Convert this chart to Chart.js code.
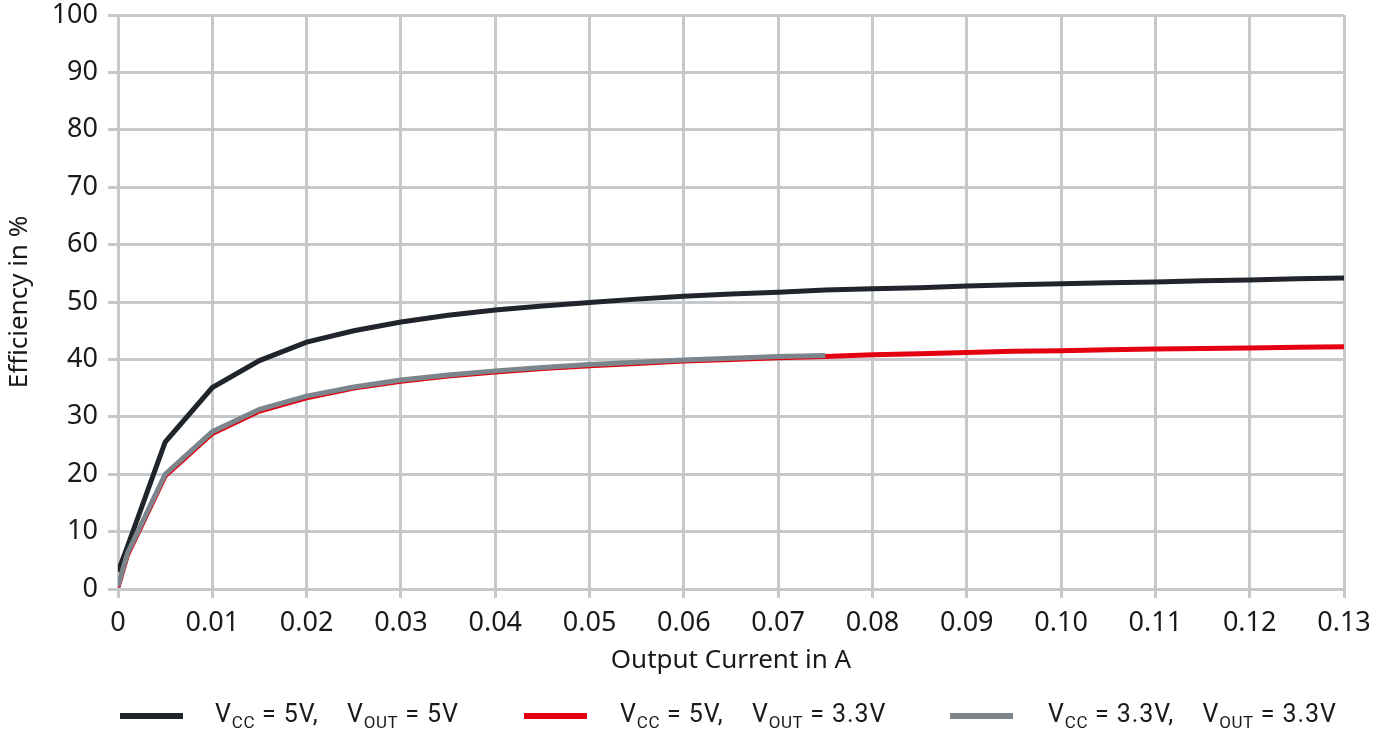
<!DOCTYPE html>
<html>
<head>
<meta charset="utf-8">
<script src="https://cdn.jsdelivr.net/npm/chart.js@4"></script>
<style>
  html, body { margin: 0; padding: 0; background: #fff; }
  #wrap { position: relative; width: 1389px; height: 734px; overflow: hidden; }
  .swatch { position: absolute; top: 713px; width: 63px; height: 6px; }
  .label { position: absolute; top: 696px; height: 36px; line-height: 36px; white-space: pre;
           font-family: Roboto, "Noto Sans", sans-serif; font-size: 25px; color: #1a1a1a;
           letter-spacing: 0.9px; }
  sub { font-size: 17px; vertical-align: -6px; line-height: 0; letter-spacing: 0.5px; }
</style>
</head>
<body>
<div id="wrap">
  <canvas id="chart" width="1389" height="734"></canvas>
</div>
<script>
// output current in A
var currentA = [0, 0.001, 0.005, 0.01, 0.015, 0.02, 0.025, 0.03, 0.035, 0.04, 0.045, 0.05, 0.055, 0.06,
                0.065, 0.07, 0.075, 0.08, 0.085, 0.09, 0.095, 0.10, 0.105, 0.11, 0.115, 0.12, 0.125, 0.13];

// efficiency in %
var eff5v5v = [3, 7.4, 25.6, 35.1, 39.8, 43.0, 45.0, 46.5, 47.7, 48.6, 49.3, 49.9, 50.5, 51.0,
               51.4, 51.7, 52.1, 52.3, 52.5, 52.8, 53.0, 53.2, 53.35, 53.5, 53.7, 53.85, 54.05, 54.2];
var eff5v33v = [0.3, 5.9, 19.7, 27.1, 31.0, 33.3, 35.0, 36.2, 37.1, 37.8, 38.4, 38.9, 39.3, 39.7,
                40.0, 40.3, 40.5, 40.8, 41.0, 41.2, 41.4, 41.5, 41.7, 41.8, 41.9, 42.0, 42.1, 42.2];
var eff33v33v = [0.5, 6.2, 20.0, 27.4, 31.3, 33.6, 35.2, 36.4, 37.3, 38.0, 38.6, 39.1, 39.5, 39.9,
                 40.2, 40.5, 40.7];

var legendNames = [
    ['5V', '5V'],
    ['5V', '3.3V'],
    ['3.3V', '3.3V']
];
var colors = ['#1f252b', '#e3000f', '#7c858b'];

function points(ys) {
    return ys.map(function(y, i) { return { x: currentA[i], y: y }; });
}

var gridColor = '#c5c9cb';
var tickFont = { family: '"Noto Sans", sans-serif', size: 27, lineHeight: 1 };
var titleFont = { family: '"Noto Sans", sans-serif', size: 26 };

var ctx = document.getElementById('chart').getContext('2d');
var myChart = new Chart(ctx, {
    type: 'line',
    data: {
        datasets: [
            { data: points(eff5v5v), borderColor: colors[0], order: 1 },
            { data: points(eff5v33v), borderColor: colors[1], order: 2 },
            { data: points(eff33v33v), borderColor: colors[2], order: 0 }
        ]
    },
    options: {
        responsive: false,
        animation: false,
        datasets: {
            line: { borderWidth: 5, pointRadius: 0, tension: 0, fill: false, borderCapStyle: 'butt' }
        },
        layout: { padding: { top: 15, right: 45, bottom: 55, left: 0 } },
        plugins: {
            legend: { display: false },
            tooltip: { enabled: false }
        },
        scales: {
            x: {
                type: 'linear',
                min: 0,
                max: 0.13,
                afterFit: function(s) {
                    s.height = 90;
                    s.paddingLeft = 0;
                    s.paddingRight = 0;
                },
                ticks: {
                    stepSize: 0.01,
                    color: '#1a1a1a',
                    font: tickFont,
                    padding: 12,
                    maxRotation: 0,
                    callback: function(v) { return v === 0 ? '0' : v.toFixed(2); }
                },
                grid: { color: gridColor, lineWidth: 3, tickLength: 9 },
                border: { display: false },
                title: {
                    display: true,
                    text: 'Output Current in A',
                    color: '#1a1a1a',
                    font: titleFont,
                    padding: { top: 0, bottom: 3 }
                }
            },
            y: {
                min: 0,
                max: 100,
                afterFit: function(s) {
                    s.width = 118;
                    s.paddingTop = 0;
                    s.paddingBottom = 0;
                },
                ticks: {
                    stepSize: 10,
                    color: '#1a1a1a',
                    font: tickFont,
                    padding: 10
                },
                grid: { color: gridColor, lineWidth: 3, tickLength: 10 },
                border: { display: false },
                title: {
                    display: true,
                    text: 'Efficiency in %',
                    color: '#1a1a1a',
                    font: titleFont,
                    padding: { top: 4, bottom: 0 }
                }
            }
        }
    }
});

// legend with subscripts
var swatchLeft = [120, 524, 950];
var labelLeft = [215, 620, 1048];
var wrap = document.getElementById('wrap');
legendNames.forEach(function(n, i) {
    var sw = document.createElement('div');
    sw.className = 'swatch';
    sw.style.left = swatchLeft[i] + 'px';
    sw.style.background = colors[i];
    wrap.appendChild(sw);
    var lab = document.createElement('div');
    lab.className = 'label';
    lab.style.left = labelLeft[i] + 'px';
    lab.innerHTML = 'V<sub>CC</sub> = ' + n[0] + ',    V<sub>OUT</sub> = ' + n[1];
    wrap.appendChild(lab);
});
</script>
</body>
</html>
